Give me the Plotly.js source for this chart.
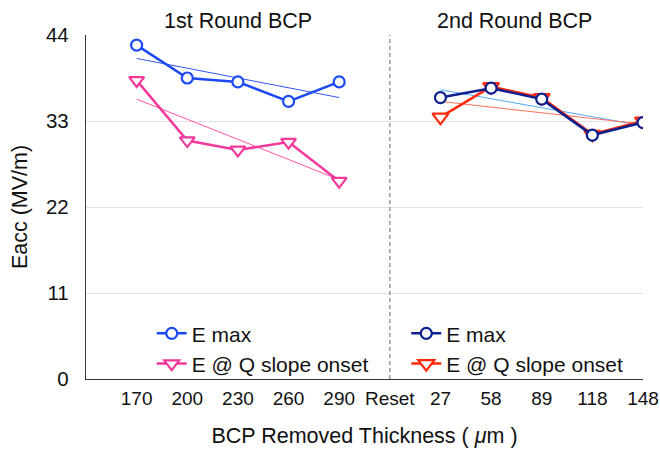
<!DOCTYPE html>
<html>
<head>
<meta charset="utf-8">
<script src="https://cdn.plot.ly/plotly-3.0.1.min.js"></script>
<style>html,body{margin:0;padding:0;background:#fff;}#chart{width:660px;height:452px;}</style>
</head>
<body>
<div id="chart"></div>
<script>
// Categories
const allCategories = ["170","200","230","260","290","Reset","27","58","89","118","148"];
const round1X = ["170","200","230","260","290"];
const round2X = ["27","58","89","118","148"];
// Series values (MV/m)
const round1Emax = [42.7, 38.5, 38.0, 35.5, 38.0];
const round1Eq   = [38.2, 30.5, 29.3, 30.3, 25.3];
const round2Emax = [36.0, 37.2, 35.8, 31.2, 32.8];
const round2Eq   = [33.5, 37.4, 36.0, 31.3, 33.0];
// Trend line endpoints
const trend1X = ["170","290"];
const trend1Emax = [41.0, 36.0];
const trend1Eq = [35.8, 25.5];
const trend2X = ["27","148"];
const trend2Emax = [37.0, 32.4];
const trend2Eq = [35.5, 32.6];
const yTicks = [0, 11, 22, 33, 44];

const FONT = "Liberation Sans, Arial, Helvetica, sans-serif";
const cBlue = "#1c4af2", cPink = "#f5389b", cNavy = "#0c1f8f", cRed = "#ff2a0a";

const traces = [
  {x: trend1X, y: trend1Emax, mode: "lines", line: {color: "#3355f0", width: 1}, showlegend: false, hoverinfo: "skip"},
  {x: trend1X, y: trend1Eq, mode: "lines", line: {color: "#ff55a8", width: 1}, showlegend: false, hoverinfo: "skip"},
  {x: trend2X, y: trend2Emax, mode: "lines", line: {color: "#55aaff", width: 1}, showlegend: false, hoverinfo: "skip"},
  {x: trend2X, y: trend2Eq, mode: "lines", line: {color: "#ff7060", width: 1}, showlegend: false, hoverinfo: "skip"},
  {x: round1X, y: round1Eq, name: "E @ Q slope onset", mode: "lines+markers", legend: "legend", legendrank: 2,
   line: {color: cPink, width: 2.5}, marker: {symbol: "triangle-down", size: 13, color: "#ffffff", line: {color: cPink, width: 2.2}}},
  {x: round1X, y: round1Emax, name: "E max", mode: "lines+markers", legend: "legend", legendrank: 1,
   line: {color: cBlue, width: 2.5}, marker: {symbol: "circle", size: 11, color: "#ffffff", line: {color: cBlue, width: 2.2}}},
  {x: round2X, y: round2Eq, name: "E @ Q slope onset", mode: "lines+markers", legend: "legend2", legendrank: 2,
   line: {color: cRed, width: 2.5}, marker: {symbol: "triangle-down", size: 14, color: "#ffffff", line: {color: cRed, width: 2.2}}},
  {x: round2X, y: round2Emax, name: "E max", mode: "lines+markers", legend: "legend2", legendrank: 1,
   line: {color: cNavy, width: 2.5}, marker: {symbol: "circle", size: 11, color: "#ffffff", line: {color: cNavy, width: 2.2}}}
];

const legendBase = {
  bgcolor: "rgba(255,255,255,0)", borderwidth: 0, font: {family: FONT, size: 21, color: "#111"},
  yanchor: "bottom", y: -0.015, xanchor: "left", traceorder: "normal", tracegroupgap: 0, itemwidth: 30
};

const layout = {
  width: 660, height: 452,
  margin: {l: 86, r: 17, t: 35, b: 73},
  paper_bgcolor: "#ffffff", plot_bgcolor: "#ffffff",
  font: {family: FONT, size: 20, color: "#111"},
  xaxis: {
    type: "category", categoryorder: "array", categoryarray: allCategories,
    range: [-1, 10], showgrid: false, zeroline: false,
    showline: true, linecolor: "#333", linewidth: 1.2,
    ticks: "outside", ticklen: 2, tickcolor: "rgba(0,0,0,0)",
    tickfont: {family: FONT, size: 19, color: "#111"},
    title: {text: "BCP Removed Thickness ( <i>μ</i>m )", font: {family: FONT, size: 21.5, color: "#111"}, standoff: 20}
  },
  yaxis: {
    range: [0, 44], tickvals: yTicks, showgrid: true, gridcolor: "#e2e2e2", gridwidth: 1,
    zeroline: false, showline: true, linecolor: "#333", linewidth: 1.2,
    ticks: "outside", ticklen: 12, tickcolor: "rgba(0,0,0,0)",
    tickfont: {family: FONT, size: 20.5, color: "#111"},
    title: {text: "Eacc (MV/m)", font: {family: FONT, size: 21.5, color: "#111"}, standoff: 12}
  },
  shapes: [
    {type: "line", xref: "x", yref: "paper", x0: "Reset", x1: "Reset", y0: 0, y1: 1,
     line: {color: "#9a9a9a", width: 1.5, dash: "4px,3px"}}
  ],
  annotations: [
    {text: "1st Round BCP", xref: "paper", yref: "paper", x: 0.273, y: 1.0, xanchor: "center", yanchor: "bottom", yshift: 0, showarrow: false,
     font: {family: FONT, size: 21.5, color: "#111"}},
    {text: "2nd Round BCP", xref: "paper", yref: "paper", x: 0.770, y: 1.0, xanchor: "center", yanchor: "bottom", yshift: 0, showarrow: false,
     font: {family: FONT, size: 21.5, color: "#111"}}
  ],
  legend: Object.assign({}, legendBase, {x: 0.118}),
  legend2: Object.assign({}, legendBase, {x: 0.575}),
  showlegend: true
};

Plotly.newPlot("chart", traces, layout, {displayModeBar: false, staticPlot: true});
</script>
</body>
</html>
